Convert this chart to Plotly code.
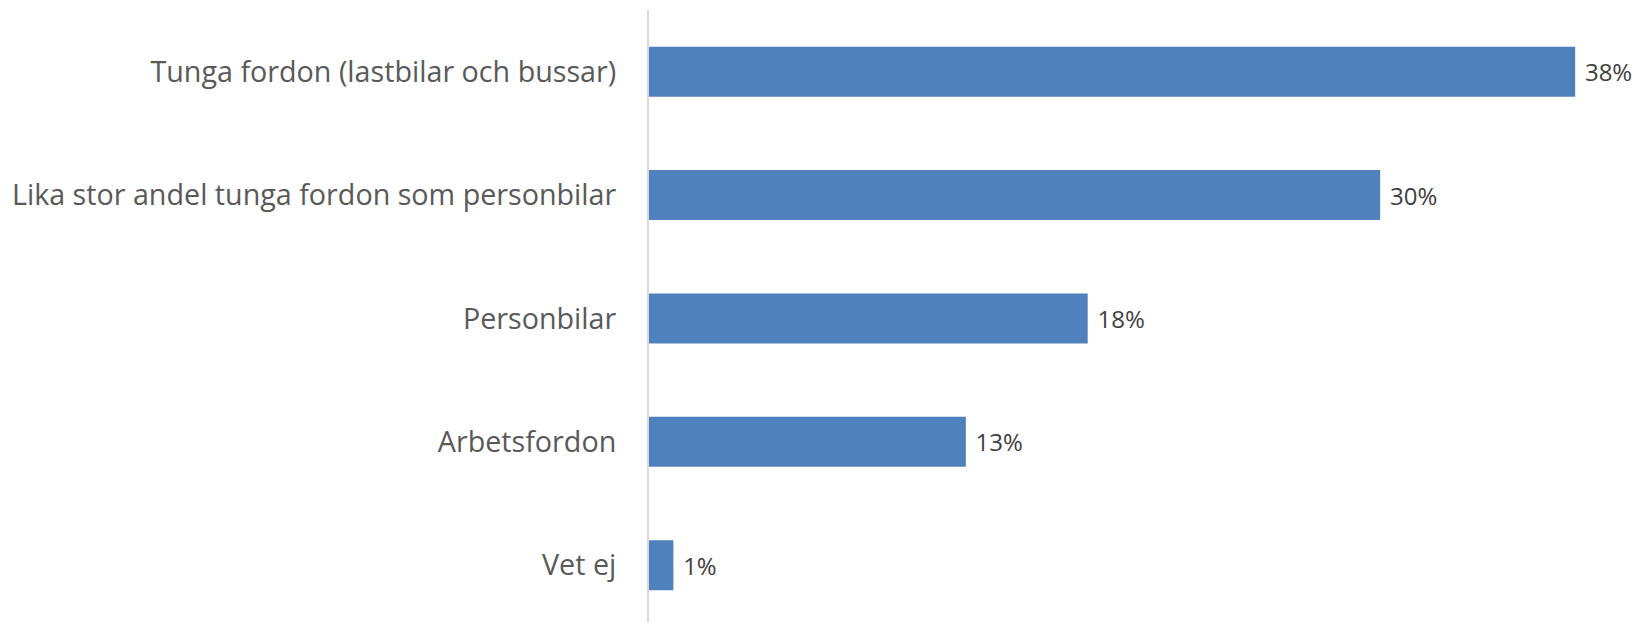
import plotly.graph_objects as go

# kategorier uppifrån och ned
categories = [
    "Tunga fordon (lastbilar och bussar)",
    "Lika stor andel tunga fordon som personbilar",
    "Personbilar",
    "Arbetsfordon",
    "Vet ej",
]
values = [38, 30, 18, 13, 1]
value_labels = ["38%", "30%", "18%", "13%", "1%"]

BAR_COLOR = "#4F81BD"
TEXT_COLOR = "#595959"
FONT = "'Open Sans', Lato, sans-serif"

fig = go.Figure()
fig.add_trace(go.Bar(
    x=values,
    y=categories,
    orientation="h",
    marker=dict(color=BAR_COLOR, line=dict(width=0)),
    width=0.405,
    text=["<span style='font-size:13px'>\u00a0\u00a0</span>" + t for t in value_labels],
    textposition="outside",
    textfont=dict(family=FONT, size=24, color="#404040"),
    cliponaxis=False,
    hoverinfo="skip",
))

# sidan har 8 px marginal i body, därför lite mindre figur
fig.update_layout(
    width=1641, height=614,
    margin=dict(l=641, r=0, t=2, b=0, autoexpand=False),
    paper_bgcolor="white",
    plot_bgcolor="white",
    showlegend=False,
    xaxis=dict(
        range=[0, 41.03],
        visible=False,
        showgrid=False,
        zeroline=False,
        automargin=False,
    ),
    yaxis=dict(
        categoryorder="array",
        categoryarray=categories,
        range=[4.46, -0.5],
        showgrid=False,
        zeroline=False,
        showline=True,
        linecolor="#D9D9D9",
        linewidth=2,
        ticks="",
        automargin=False,
        ticklabelstandoff=25,
        tickfont=dict(family=FONT, size=28.7, color=TEXT_COLOR),
    ),
)

fig.write_html("out.html")
